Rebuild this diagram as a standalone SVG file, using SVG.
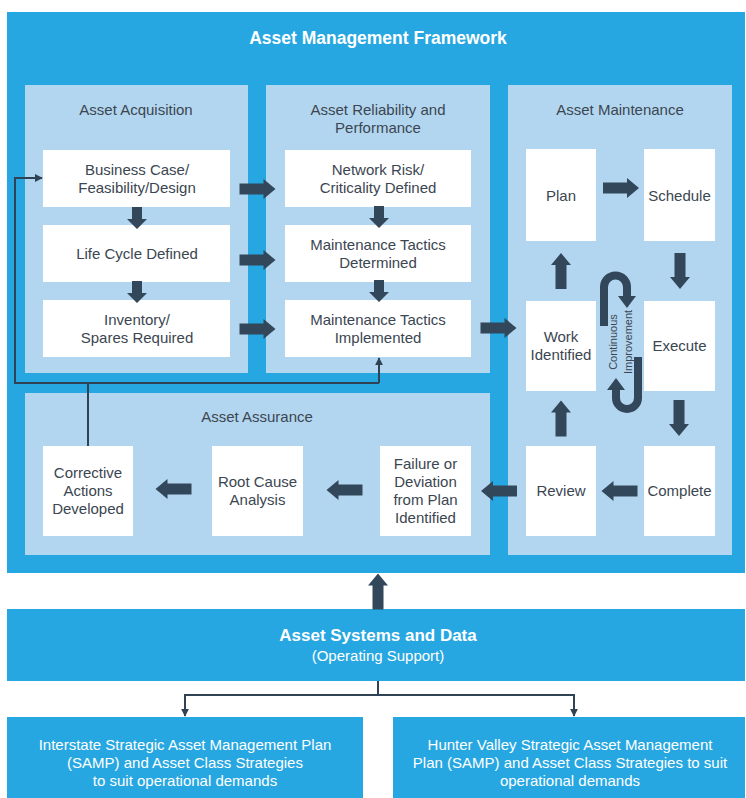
<svg xmlns="http://www.w3.org/2000/svg" width="746" height="798" viewBox="0 0 746 798">
<style>
.bg{fill:#ffffff}
.blue{fill:#27a7e1}
.panel{fill:#b3d6f0}
.box{fill:#ffffff}
.t{font-family:"Liberation Sans",Arial,sans-serif;font-size:15px;fill:#3b4651;text-anchor:middle}
.w{font-family:"Liberation Sans",Arial,sans-serif;fill:#ffffff;text-anchor:middle}
.arr{fill:#33475a}
.ln{fill:none;stroke:#2f4354;stroke-width:2}
.ci{fill:none;stroke:#33475a;stroke-width:8}
</style>
<defs>
<path id="ha" d="M-18,-5.5 H6 V-10 L18,0 L6,10 V5.5 H-18 Z"/>
<path id="va" d="M-5,-11 V1 H-10 L0,11 L10,1 H5 V-11 Z"/>
<marker id="mk" viewBox="0 0 10 10" refX="9" refY="5" markerWidth="8" markerHeight="8" markerUnits="userSpaceOnUse" orient="auto">
<path d="M0,0 L10,5 L0,10 Z" fill="#2f4354"/>
</marker>
</defs>
<rect class="bg" x="0" y="0" width="746" height="798"/>
<g id="framework">
<rect class="blue" x="7" y="12" width="738" height="561"/>
<text class="w" x="378" y="44" font-size="17.5" font-weight="bold">Asset Management Framework</text>
</g>
<g id="panel-acquisition">
<rect class="panel" x="25" y="85" width="223" height="288"/>
<text class="t" x="136" y="115">Asset Acquisition</text>
</g>
<g id="panel-reliability">
<rect class="panel" x="266" y="85" width="224" height="288"/>
<text class="t" x="378" y="115">Asset Reliability and</text>
<text class="t" x="378" y="133">Performance</text>
</g>
<g id="panel-maintenance">
<rect class="panel" x="508" y="85" width="224" height="470"/>
<text class="t" x="620" y="115">Asset Maintenance</text>
</g>
<g id="panel-assurance">
<rect class="panel" x="25" y="393" width="465" height="162"/>
<text class="t" x="257" y="422">Asset Assurance</text>
</g>
<g id="n-business-case">
<rect class="box" x="43" y="150" width="187" height="57"/>
<text class="t" x="137" y="175">Business Case/</text>
<text class="t" x="137" y="193">Feasibility/Design</text>
</g>
<g id="n-life-cycle">
<rect class="box" x="43" y="225" width="187" height="57"/>
<text class="t" x="137" y="259">Life Cycle Defined</text>
</g>
<g id="n-inventory">
<rect class="box" x="43" y="300" width="187" height="57"/>
<text class="t" x="137" y="325">Inventory/</text>
<text class="t" x="137" y="343">Spares Required</text>
</g>
<g id="n-network-risk">
<rect class="box" x="285" y="150" width="186" height="57"/>
<text class="t" x="378" y="175">Network Risk/</text>
<text class="t" x="378" y="193">Criticality Defined</text>
</g>
<g id="n-tactics-determined">
<rect class="box" x="285" y="225" width="186" height="57"/>
<text class="t" x="378" y="250">Maintenance Tactics</text>
<text class="t" x="378" y="268">Determined</text>
</g>
<g id="n-tactics-implemented">
<rect class="box" x="285" y="300" width="186" height="57"/>
<text class="t" x="378" y="325">Maintenance Tactics</text>
<text class="t" x="378" y="343">Implemented</text>
</g>
<g id="n-plan">
<rect class="box" x="526" y="149" width="70" height="92"/>
<text class="t" x="561" y="201">Plan</text>
</g>
<g id="n-schedule">
<rect class="box" x="644" y="149" width="71" height="92"/>
<text class="t" x="679.5" y="201">Schedule</text>
</g>
<g id="n-work-identified">
<rect class="box" x="526" y="301" width="70" height="90"/>
<text class="t" x="561" y="342">Work</text>
<text class="t" x="561" y="360">Identified</text>
</g>
<g id="n-execute">
<rect class="box" x="644" y="301" width="71" height="90"/>
<text class="t" x="679.5" y="351">Execute</text>
</g>
<g id="n-review">
<rect class="box" x="526" y="446" width="70" height="90"/>
<text class="t" x="561" y="496">Review</text>
</g>
<g id="n-complete">
<rect class="box" x="644" y="446" width="71" height="90"/>
<text class="t" x="679.5" y="496">Complete</text>
</g>
<g id="n-corrective">
<rect class="box" x="43" y="446" width="90" height="90"/>
<text class="t" x="88" y="478">Corrective</text>
<text class="t" x="88" y="496">Actions</text>
<text class="t" x="88" y="514">Developed</text>
</g>
<g id="n-root-cause">
<rect class="box" x="212" y="446" width="91" height="90"/>
<text class="t" x="257.5" y="487">Root Cause</text>
<text class="t" x="257.5" y="505">Analysis</text>
</g>
<g id="n-failure">
<rect class="box" x="380" y="446" width="91" height="90"/>
<text class="t" x="425.5" y="469">Failure or</text>
<text class="t" x="425.5" y="487">Deviation</text>
<text class="t" x="425.5" y="505">from Plan</text>
<text class="t" x="425.5" y="523">Identified</text>
</g>
<g id="n-systems">
<rect class="blue" x="7" y="609" width="738" height="72"/>
<text class="w" x="378" y="641" font-size="17" font-weight="bold">Asset Systems and Data</text>
<text class="w" x="378" y="661" font-size="15">(Operating Support)</text>
</g>
<g id="n-interstate">
<rect class="blue" x="7" y="717" width="356" height="81"/>
<text class="w" x="185" y="750" font-size="15">Interstate Strategic Asset Management Plan</text>
<text class="w" x="185" y="768" font-size="15">(SAMP) and Asset Class Strategies</text>
<text class="w" x="185" y="786" font-size="15">to suit operational demands</text>
</g>
<g id="n-hunter">
<rect class="blue" x="393" y="717" width="352" height="81"/>
<text class="w" x="570" y="750" font-size="15">Hunter Valley Strategic Asset Management</text>
<text class="w" x="570" y="768" font-size="15">Plan (SAMP) and Asset Class Strategies to suit</text>
<text class="w" x="570" y="786" font-size="15">operational demands</text>
</g>
<g id="connectors">
<use href="#ha" class="arr" transform="translate(257.5,189)"/>
<use href="#ha" class="arr" transform="translate(257.5,260)"/>
<use href="#ha" class="arr" transform="translate(257.5,329)"/>
<use href="#ha" class="arr" transform="translate(498.5,328)"/>
<use href="#va" class="arr" transform="translate(137,218)"/>
<use href="#va" class="arr" transform="translate(137,292)"/>
<use href="#va" class="arr" transform="translate(379,217)"/>
<use href="#va" class="arr" transform="translate(379,291)"/>
<use href="#ha" class="arr" transform="translate(621,188)"/>
<use href="#ha" class="arr" transform="translate(680,271) rotate(90)"/>
<use href="#ha" class="arr" transform="translate(679,418) rotate(90)"/>
<use href="#ha" class="arr" transform="translate(619.5,491) rotate(180)"/>
<use href="#ha" class="arr" transform="translate(561,418.5) rotate(-90)"/>
<use href="#ha" class="arr" transform="translate(561,271) rotate(-90)"/>
<use href="#ha" class="arr" transform="translate(499,491) rotate(180)"/>
<use href="#ha" class="arr" transform="translate(344.5,490) rotate(180)"/>
<use href="#ha" class="arr" transform="translate(173.5,489) rotate(180)"/>
<use href="#ha" class="arr" transform="translate(378,591.5) rotate(-90)"/>
<path class="ci" d="M604,326 V287 A11.5,11.5 0 0 1 627,287 V297"/>
<polygon class="arr" points="618,296 636,296 627,308"/>
<path class="ci" d="M638,357 V398 A11,11 0 0 1 616,398 V389"/>
<polygon class="arr" points="607,390 625,390 616,378"/>
<text font-family="'Liberation Sans',Arial,sans-serif" font-size="11" fill="#3b4651" text-anchor="middle" transform="translate(621,342) rotate(-90)"><tspan x="0" y="-4">Continuous</tspan><tspan x="0" y="11">Improvement</tspan></text>
<path class="ln" d="M88,446 V383"/>
<path class="ln" d="M379,383 H15 V178 H42" marker-end="url(#mk)"/>
<path class="ln" d="M379,383 V358" marker-end="url(#mk)"/>
<path class="ln" d="M378,681 V695 H185 V716" marker-end="url(#mk)"/>
<path class="ln" d="M378,695 H574 V716" marker-end="url(#mk)"/>
</g>
</svg>
